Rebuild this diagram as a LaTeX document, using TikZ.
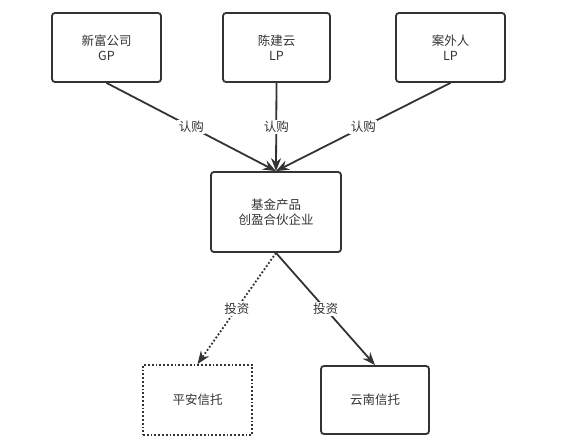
\documentclass[tikz,border=0pt]{standalone}
\usepackage{fontspec}
\setmainfont{Noto Sans CJK SC}
\usepackage{tikz}
\usetikzlibrary{arrows.meta,positioning}
\definecolor{linegray}{HTML}{333333}

\begin{document}
\begin{tikzpicture}[x=1pt,y=-1pt,>={Stealth[length=13pt,width=10pt]},
  thick,line width=1.8pt,draw=linegray,
  main node/.style={rectangle,rounded corners=3pt,draw=linegray,line width=1.8pt,
    text=linegray,align=center,font=\fontsize{12.5}{15}\selectfont,inner sep=0pt},
  edge label/.style={fill=white,text=linegray,inner sep=1.5pt,font=\fontsize{12.5}{15}\selectfont}]
    \useasboundingbox (0,0) rectangle (568,447);
    \node[main node,minimum width=109pt,minimum height=69pt] (GP) at (106.5,47.5) {新富公司\\GP};
    \node[main node,minimum width=107pt,minimum height=69pt] (Chen) at (276.5,47.5) {陈建云\\LP};
    \node[main node,minimum width=109pt,minimum height=69pt] (Out) at (450.5,47.5) {案外人\\LP};
    \node[main node,minimum width=130pt,minimum height=80pt] (Fund) at (276,212) {基金产品\\创盈合伙企业};
    \node[main node,dotted,rounded corners=0pt,minimum width=109pt,minimum height=70pt] (PA) at (197.5,400) {平安信托};
    \node[main node,minimum width=108pt,minimum height=68pt] (YN) at (375,400) {云南信托};
    \draw[->,draw=linegray,line width=1.8pt] (GP.south) -- node[edge label] {认购} (Fund.north);
    \draw[->,draw=linegray,line width=1.8pt] (Chen.south) -- node[edge label] {认购} (Fund.north);
    \draw[->,draw=linegray,line width=1.8pt] (Out.south) -- node[edge label] {认购} (Fund.north);
    \draw[->,draw=linegray,line width=1.8pt,dotted] (Fund.south) -- node[edge label] {投资} (PA.north);
    \draw[->,draw=linegray,line width=1.8pt] (Fund.south) -- node[edge label] {投资} (YN.north);
\end{tikzpicture}
\end{document}
